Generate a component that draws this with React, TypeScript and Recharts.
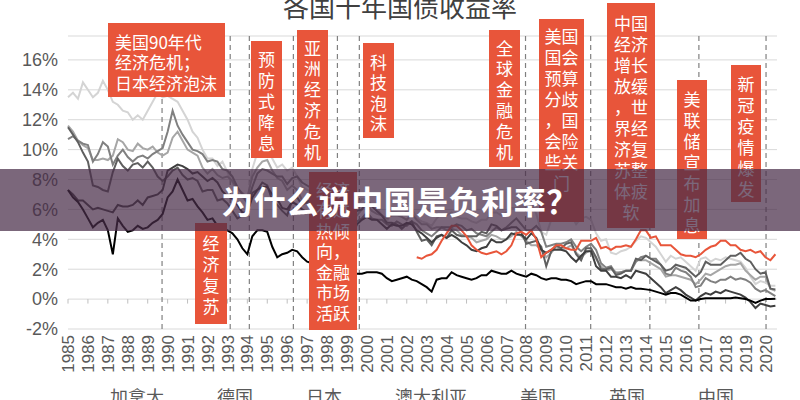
import React from 'react';
import { LineChart, Line, XAxis, YAxis, CartesianGrid, ReferenceLine } from 'recharts';

const TITLE = '各国十年国债收益率';
const BANNER = '为什么说中国是负利率？';

const START_YEAR = 1985;
const STEP = 0.25; // quarterly observations

const yearTicks = [
  1985, 1986, 1987, 1988, 1989, 1990, 1991, 1992, 1993, 1994, 1995, 1996,
  1997, 1998, 1999, 2000, 2001, 2002, 2003, 2004, 2005, 2006, 2007, 2008,
  2009, 2010, 2011, 2012, 2013, 2014, 2015, 2016, 2017, 2018, 2019, 2020,
];
const yTicks = [-2, 0, 2, 4, 6, 8, 10, 12, 14, 16];

// quarterly 10y yields (%), 1985Q1 .. 2020Q3
const canada = [
  11.6, 11.2, 10.6, 10.3, 10.1, 9.3, 9.3, 9.4, 9.3, 9.6, 10.7, 10.5, 10.0, 9.9, 10.4, 10.1,
  10.0, 10.2, 9.8, 9.6, 9.8, 10.8, 11.2, 10.6, 10.0, 9.8, 9.6, 8.8, 8.4, 8.7, 8.3, 8.1,
  8.2, 7.9, 7.4, 7.1, 6.8, 8.2, 8.8, 9.2, 9.3, 8.6, 8.1, 7.9, 7.3, 7.6, 7.3, 6.6,
  6.4, 6.7, 6.2, 6.0, 5.6, 5.5, 5.5, 5.1, 5.0, 5.2, 5.6, 6.0, 6.3, 5.9, 5.7, 5.6,
  5.4, 5.6, 5.6, 5.5, 5.3, 5.7, 5.3, 5.0, 5.0, 4.7, 4.8, 4.8, 4.6, 4.7, 4.6, 4.3,
  4.2, 4.1, 3.8, 3.9, 4.0, 4.3, 4.2, 4.0, 4.0, 4.2, 4.5, 4.2, 3.9, 3.6, 3.6, 3.3,
  2.8, 3.1, 3.5, 3.3, 3.4, 3.6, 3.1, 2.8, 3.1, 3.3, 2.7, 2.2, 1.9, 2.0, 1.8, 1.8,
  1.9, 1.9, 2.6, 2.6, 2.6, 2.4, 2.2, 2.0, 1.5, 1.6, 1.6, 1.5, 1.4, 1.3, 1.0, 1.3,
  1.7, 1.6, 1.8, 2.0, 2.2, 2.3, 2.3, 2.4, 1.9, 1.6, 1.3, 1.5, 1.5, 0.7, 0.55,
];
const germany = [
  7.3, 7.0, 6.6, 6.6, 6.3, 6.0, 6.1, 6.0, 5.9, 5.8, 6.3, 6.2, 6.2, 6.3, 6.6, 6.3,
  6.8, 6.9, 7.0, 7.3, 8.6, 8.8, 9.0, 8.9, 8.7, 8.4, 8.5, 8.2, 7.9, 8.1, 7.8, 7.2,
  6.9, 6.7, 6.3, 5.8, 5.8, 6.8, 7.3, 7.5, 7.5, 7.0, 6.7, 6.1, 6.0, 6.5, 6.3, 6.0,
  5.8, 5.8, 5.6, 5.5, 5.1, 4.9, 4.3, 4.0, 3.8, 4.2, 5.0, 5.3, 5.5, 5.3, 5.3, 5.0,
  4.7, 5.0, 4.9, 4.9, 5.1, 5.0, 4.6, 4.4, 4.1, 3.8, 4.1, 4.3, 4.1, 4.3, 4.1, 3.8,
  3.6, 3.3, 3.2, 3.4, 3.5, 4.0, 3.8, 3.8, 4.0, 4.4, 4.3, 4.3, 4.0, 4.4, 4.1, 3.3,
  3.1, 3.3, 3.3, 3.3, 3.2, 2.8, 2.5, 2.9, 3.2, 3.2, 2.2, 1.9, 1.9, 1.5, 1.5, 1.4,
  1.6, 1.4, 1.9, 1.8, 1.7, 1.4, 1.1, 0.8, 0.4, 0.6, 0.8, 0.6, 0.3, 0.1, -0.1, 0.2,
  0.4, 0.3, 0.5, 0.4, 0.6, 0.5, 0.4, 0.3, 0.1, -0.2, -0.6, -0.3, -0.4, -0.5, -0.45,
];
const japan = [
  7.3, 6.8, 6.5, 6.0, 5.4, 4.8, 5.1, 5.3, 4.6, 3.0, 5.4, 4.9, 4.5, 4.6, 4.9, 4.7,
  4.8, 5.1, 5.3, 5.7, 6.8, 7.2, 8.0, 7.3, 6.6, 6.7, 6.2, 5.8, 5.3, 5.4, 4.9, 4.6,
  4.6, 4.4, 4.0, 3.4, 3.0, 4.2, 4.6, 4.6, 4.5, 3.5, 2.8, 3.0, 3.1, 3.3, 3.2, 2.8,
  2.5, 2.4, 2.2, 1.9, 1.8, 1.5, 1.0, 1.4, 2.0, 1.5, 1.7, 1.7, 1.8, 1.8, 1.8, 1.7,
  1.4, 1.2, 1.3, 1.4, 1.5, 1.3, 1.2, 1.0, 0.8, 0.5, 1.3, 1.4, 1.4, 1.8, 1.6, 1.5,
  1.4, 1.3, 1.4, 1.6, 1.6, 1.9, 1.8, 1.7, 1.7, 1.9, 1.7, 1.6, 1.5, 1.7, 1.6, 1.4,
  1.3, 1.4, 1.4, 1.3, 1.3, 1.2, 1.0, 1.1, 1.2, 1.2, 1.0, 1.0, 1.0, 0.9, 0.8, 0.8,
  0.7, 0.8, 0.7, 0.7, 0.65, 0.6, 0.5, 0.4, 0.3, 0.4, 0.4, 0.3, 0.1, -0.1, -0.1, 0.0,
  0.05, 0.05, 0.05, 0.05, 0.05, 0.05, 0.1, 0.05, 0.0, -0.1, -0.25, -0.1, 0.0, 0.0, 0.03,
];
const australia = [
  13.5, 13.8, 13.4, 14.5, 14.0, 13.5, 13.8, 14.6, 14.0, 13.2, 13.0, 12.6, 12.5, 12.0, 12.3, 12.0,
  12.6, 13.2, 13.8, 13.5, 13.6, 13.4, 13.2, 12.6, 12.0, 11.2, 10.8, 10.0, 9.4, 9.4, 8.9, 9.2,
  8.5, 7.8, 7.2, 6.8, 6.5, 8.7, 9.8, 10.1, 10.2, 9.4, 8.8, 9.0, 8.6, 8.8, 8.2, 7.5,
  7.3, 7.2, 6.4, 6.0, 5.6, 5.6, 5.2, 4.9, 5.0, 5.7, 6.3, 6.7, 6.7, 6.3, 6.1, 5.6,
  5.2, 5.8, 5.8, 5.6, 5.9, 6.1, 5.4, 5.2, 5.1, 4.9, 5.4, 5.7, 5.6, 5.8, 5.5, 5.4,
  5.4, 5.2, 5.1, 5.3, 5.3, 5.8, 5.8, 5.6, 5.8, 6.1, 6.1, 6.2, 6.2, 6.4, 5.7, 4.5,
  4.3, 5.3, 5.4, 5.6, 5.6, 5.6, 5.0, 5.4, 5.5, 5.3, 4.4, 3.9, 4.0, 3.1, 3.0, 3.2,
  3.3, 3.5, 3.9, 4.2, 4.1, 3.8, 3.5, 3.0, 2.5, 2.9, 2.7, 2.8, 2.5, 2.2, 1.9, 2.7,
  2.8, 2.5, 2.7, 2.6, 2.8, 2.7, 2.6, 2.5, 2.1, 1.5, 1.0, 1.2, 1.1, 0.9, 0.9,
];
const usa = [
  11.5, 11.0, 10.5, 9.8, 9.2, 7.6, 7.5, 7.3, 7.2, 8.5, 9.4, 8.9, 8.6, 9.0, 9.1, 8.8,
  9.2, 8.8, 8.2, 7.9, 8.2, 8.6, 8.8, 8.3, 8.0, 8.1, 7.9, 7.2, 7.3, 7.3, 6.6, 6.7,
  6.4, 5.9, 5.4, 5.6, 5.8, 7.1, 7.3, 7.8, 7.6, 6.6, 6.3, 5.9, 5.6, 6.6, 6.8, 6.3,
  6.5, 6.7, 6.3, 5.9, 5.6, 5.6, 5.1, 4.5, 4.7, 5.3, 5.9, 6.0, 6.6, 6.2, 5.9, 5.6,
  5.1, 5.1, 5.0, 4.7, 5.0, 5.2, 4.5, 3.9, 4.0, 3.6, 4.2, 4.3, 4.1, 4.6, 4.3, 4.2,
  4.2, 4.2, 4.2, 4.5, 4.4, 5.0, 4.9, 4.6, 4.7, 4.8, 4.8, 4.5, 3.7, 3.8, 3.9, 3.5,
  2.2, 3.2, 3.6, 3.4, 3.7, 3.8, 3.0, 2.6, 3.4, 3.4, 2.8, 2.0, 2.0, 2.1, 1.6, 1.7,
  1.9, 1.9, 2.7, 2.6, 2.9, 2.7, 2.5, 2.3, 1.9, 2.0, 2.3, 2.2, 2.1, 1.8, 1.5, 1.8,
  2.5, 2.3, 2.3, 2.3, 2.6, 2.9, 2.9, 3.1, 2.7, 2.5, 2.0, 1.7, 1.8, 0.7, 0.65,
];
const uk = [
  10.7, 10.9, 10.6, 10.4, 10.3, 9.2, 9.7, 10.5, 10.2, 9.0, 9.6, 10.0, 9.5, 9.2, 9.5, 9.6,
  9.4, 9.7, 9.9, 10.1, 11.2, 12.6, 11.6, 11.0, 10.5, 10.0, 9.9, 9.7, 9.2, 9.3, 9.2, 8.7,
  8.6, 8.2, 7.5, 7.0, 6.4, 7.5, 8.4, 8.7, 8.6, 8.4, 8.2, 8.2, 7.7, 8.1, 8.2, 7.8,
  7.6, 7.4, 7.1, 6.7, 6.3, 6.1, 5.8, 5.0, 4.5, 4.7, 5.2, 5.4, 5.8, 5.4, 5.3, 5.3,
  5.0, 4.9, 5.2, 5.0, 4.9, 5.2, 5.0, 4.6, 4.4, 4.2, 4.5, 4.8, 4.8, 4.8, 5.0, 4.9,
  4.6, 4.7, 4.4, 4.3, 4.2, 4.5, 4.8, 4.6, 4.8, 5.1, 5.4, 5.0, 4.6, 4.6, 4.9, 4.5,
  3.5, 3.6, 3.7, 3.7, 3.8, 4.0, 3.5, 3.2, 3.5, 3.7, 3.3, 2.4, 2.1, 2.2, 1.7, 1.8,
  1.9, 1.9, 2.5, 2.8, 2.9, 2.7, 2.7, 2.3, 1.7, 1.6, 2.1, 1.9, 1.8, 1.5, 0.8, 0.9,
  1.4, 1.2, 1.1, 1.3, 1.3, 1.5, 1.3, 1.4, 1.3, 1.1, 0.7, 0.5, 0.6, 0.4, 0.2,
];
// China series begins in 2002Q3
const CHINA_START = 2002.5;
const china = [
  2.8, 2.7,
  2.9, 3.0, 3.3, 3.9, 4.4, 4.9, 4.9, 4.6, 4.2, 3.6, 3.3, 3.1, 3.0, 3.1, 3.2, 3.0,
  3.2, 3.6, 4.4, 4.5, 4.3, 4.6, 4.0, 2.8, 3.1, 3.3, 3.6, 3.6, 3.4, 3.3, 3.3, 3.9,
  3.9, 3.9, 4.1, 3.4, 3.5, 3.3, 3.5, 3.5, 3.6, 3.5, 4.0, 4.6, 4.6, 4.1, 4.2, 3.6,
  3.6, 3.6, 3.3, 3.0, 2.9, 2.9, 2.8, 3.0, 3.3, 3.5, 3.6, 3.9, 3.9, 3.6, 3.6, 3.3,
  3.2, 3.3, 3.1, 3.2, 2.8, 2.6, 3.0,
];

const eventDates = [1989.72, 1993.14, 1994.1, 1996.31, 1998.52, 1999.62, 2007.96, 2011.23, 2014.2, 2016.66, 2020.03];

const series = [
  { key: 'ca', name: '加拿大', values: canada, color: '#a6a6a6' },
  { key: 'de', name: '德国', values: germany, color: '#3f3f3f' },
  { key: 'jp', name: '日本', values: japan, color: '#000000' },
  { key: 'au', name: '澳大利亚', values: australia, color: '#d4d4d4' },
  { key: 'us', name: '美国', values: usa, color: '#5f5f5f' },
  { key: 'uk', name: '英国', values: uk, color: '#808080' },
  { key: 'cn', name: '中国', values: china, color: '#e8553a' },
];
const drawOrder = ['au', 'ca', 'uk', 'us', 'de', 'jp', 'cn'];

const chinaOffset = Math.round((CHINA_START - START_YEAR) / STEP);
const table = canada.map((_, i) => {
  const row: any = { t: START_YEAR + i * STEP };
  series.forEach((s) => {
    if (s.key === 'cn') {
      const ci = i - chinaOffset;
      row.cn = ci >= 0 && ci < china.length ? china[ci] : null;
    } else {
      row[s.key] = s.values[i];
    }
  });
  return row;
});

const noteTexts = [
  '美国90年代\n经济危机；\n日本经济泡沫',
  '预防式降息',
  '亚洲经济危机',
  '科技泡沫',
  '全球金融危机',
  '美国国会预算分歧，国会险些关门',
  '中国经济增长放缓，世界经济复苏整体疲软',
  '美联储宣布加息',
  '新冠疫情爆发',
  '经济复苏',
  '经济有过热倾向，金融市场活跃',
];
// annotation box layout (pixels)
const noteLayout = [
  { left: 108, top: 23, w: 117, h: 74, first: 19, cols: 0, lh: 20.5 },
  { left: 251, top: 41, w: 31, h: 117, first: 17, cols: 1, lh: 21 },
  { left: 297, top: 30, w: 31, h: 137, first: 18, cols: 1, lh: 20.8 },
  { left: 363, top: 43, w: 31, h: 95, first: 19, cols: 1, lh: 20.5 },
  { left: 489, top: 30, w: 31, h: 137, first: 18, cols: 1, lh: 20.8 },
  { left: 539, top: 19, w: 45, h: 203, first: 16, cols: 2, lh: 21 },
  { left: 607, top: 3, w: 48, h: 225, first: 19, cols: 2, lh: 21 },
  { left: 677, top: 80, w: 30, h: 159, first: 18, cols: 1, lh: 21 },
  { left: 731, top: 65, w: 30, h: 137, first: 18, cols: 1, lh: 21 },
  { left: 195, top: 223, w: 32, h: 101, first: 19, cols: 1, lh: 21 },
  { left: 309, top: 172, w: 48, h: 158, first: 18, cols: 2, lh: 20.5 },
];

const CJK = '"Noto Sans CJK SC", "Noto Sans", sans-serif';
const LATIN = '"Liberation Sans", Arial, sans-serif';

function splitRows(text: string, cols: number): string[] {
  if (cols === 0) return text.split('\n');
  const chars = Array.from(text);
  const rows: string[] = [];
  for (let i = 0; i < chars.length; i += cols) rows.push(chars.slice(i, i + cols).join(''));
  return rows;
}

const YearTick = (props: any) => {
  const { x, y, payload } = props;
  return (
    <text
      x={x}
      y={y}
      transform={`rotate(-90, ${x}, ${y})`}
      textAnchor="end"
      dy="0.36em"
      fontSize={17}
      fill="#595959"
      fontFamily={LATIN}
    >
      {payload.value}
    </text>
  );
};

export default function App() {
  return (
    <div style={{ position: 'absolute', left: 0, top: 0, width: 800, height: 400, overflow: 'hidden', background: '#fff' }}>
      <LineChart width={800} height={400} data={table} margin={{ top: 36, right: 23, bottom: 0, left: 0 }}>
        <CartesianGrid vertical={false} stroke="#d9d9d9" strokeWidth={1} />
        <XAxis
          dataKey="t"
          type="number"
          domain={[1985, 2020.58]}
          ticks={yearTicks}
          interval={0}
          height={71}
          tickLine={false}
          axisLine={false}
          tickMargin={0}
          tick={<YearTick />}
        />
        <YAxis
          type="number"
          domain={[-2, 17.6]}
          ticks={yTicks}
          width={68}
          tickLine={false}
          axisLine={false}
          tickMargin={4}
          tickFormatter={(v: number) => `${v}%`}
          tick={{ fontSize: 18, fill: '#595959', fontFamily: LATIN }}
        />
        {yearTicks.map((yr) => (
          <ReferenceLine
            key={`tk${yr}`}
            segment={[{ x: yr, y: 0 }, { x: yr, y: -0.3 }]}
            stroke="#bfbfbf"
            strokeWidth={1}
          />
        ))}
        {eventDates.map((d) => (
          <ReferenceLine key={`ev${d}`} x={d} stroke="#808080" strokeDasharray="5 4" strokeWidth={1.2} />
        ))}
        {drawOrder.map((k) => {
          const s = series.find((z) => z.key === k)!;
          return (
            <Line
              key={k}
              dataKey={k}
              name={s.name}
              type="linear"
              stroke={s.color}
              strokeWidth={2}
              dot={false}
              isAnimationActive={false}
            />
          );
        })}
      </LineChart>

      {/* title */}
      <div
        style={{
          position: 'absolute', left: 0, top: -7, width: 800, textAlign: 'center',
          fontFamily: CJK, fontSize: 26, lineHeight: '26px', color: '#404040', whiteSpace: 'nowrap',
        }}
      >
        {TITLE}
      </div>

      {/* annotation boxes */}
      {noteLayout.map((b, i) => {
        const rows = splitRows(noteTexts[i], b.cols);
        return (
          <div
            key={`n${i}`}
            style={{ position: 'absolute', left: b.left, top: b.top, width: b.w, height: b.h, background: '#e8553a' }}
          >
            {rows.map((r, k) => (
              <div
                key={k}
                style={{
                  position: 'absolute',
                  left: b.cols === 0 ? 7 : 0,
                  width: b.cols === 0 ? b.w - 7 : b.w,
                  top: b.first + k * b.lh - b.lh / 2,
                  height: b.lh,
                  lineHeight: `${b.lh}px`,
                  textAlign: b.cols === 0 ? 'left' : 'center',
                  color: '#ffffff',
                  fontFamily: CJK,
                  fontSize: 17,
                  whiteSpace: 'nowrap',
                }}
              >
                {r}
              </div>
            ))}
          </div>
        );
      })}

      {/* banner */}
      <div
        style={{
          position: 'absolute', left: 0, top: 169, width: 800, height: 62,
          background: 'rgba(72, 44, 72, 0.72)', color: '#ffffff', textAlign: 'center',
          fontFamily: CJK, fontWeight: 700, fontSize: 32, lineHeight: '62px', letterSpacing: 0.5,
          whiteSpace: 'nowrap',
        }}
      >
        {BANNER}
      </div>

      {/* legend */}
      <div
        style={{
          position: 'absolute', left: 110, top: 387, display: 'flex', gap: 53,
          fontFamily: CJK, fontSize: 18, lineHeight: '18px', color: '#595959', whiteSpace: 'nowrap',
        }}
      >
        {series.map((s) => (
          <span key={s.key}>{s.name}</span>
        ))}
      </div>
    </div>
  );
}
